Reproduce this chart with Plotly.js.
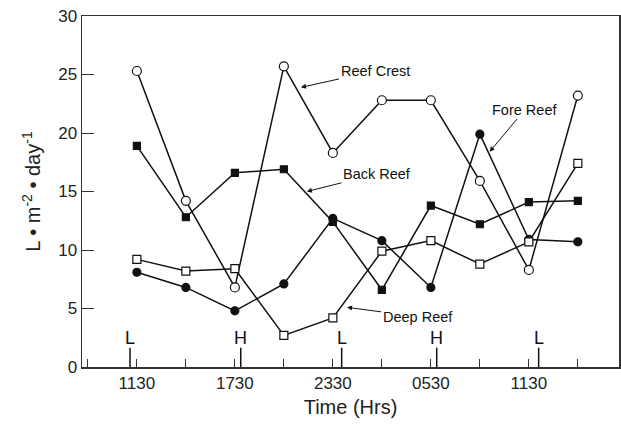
<!DOCTYPE html>
<html>
<head>
<meta charset="utf-8">
<script src="https://cdn.plot.ly/plotly-3.0.1.min.js"></script>
<style>html,body{margin:0;padding:0;background:#fff;}#chart{width:621px;height:424px;}</style>
</head>
<body>
<div id="chart"></div>
<script>
// Sampling times (every 3 h), index positions on x axis
var timeLabels = ["1130","1430","1730","2030","2330","0230","0530","0830","1130","1430"];
var majorIdx   = [0, 2, 4, 6, 8];
var majorText  = ["1130","1730","2330","0530","1130"];
var reefCrest = [25.3, 14.2, 6.8, 25.7, 18.3, 22.8, 22.8, 15.9, 8.3, 23.2];
var backReef  = [18.9, 12.8, 16.6, 16.9, 12.4, 6.6, 13.8, 12.2, 14.1, 14.2];
var foreReef  = [8.1, 6.8, 4.8, 7.1, 12.7, 10.8, 6.8, 19.9, 10.9, 10.7];
var deepReef  = [9.2, 8.2, 8.4, 2.7, 4.2, 9.9, 10.8, 8.8, 10.7, 17.4];
// Tide markers (position in sample-index units) and labels
var tidePos    = [-0.14, 2.12, 4.18, 6.12, 8.2];
var tideLabels = ["L","H","L","H","L"];

var idx = timeLabels.map(function(_, i){ return i; });
var lineStyle = {color:'#111', width:1.5};

function series(name, vals, open, symbol, size){
  return {
    x: idx, y: vals, name: name, type: 'scatter', mode: 'lines+markers',
    line: lineStyle,
    marker: {symbol: symbol, size: size, color: open ? '#fff' : '#111',
             line: {color:'#111', width:1.2}},
    cliponaxis: false
  };
}

var traces = [
  series('Reef Crest', reefCrest, true, 'circle', 9),
  series('Back Reef', backReef, false, 'square', 7),
  series('Fore Reef', foreReef, false, 'circle', 8),
  series('Deep Reef', deepReef, true, 'square', 8)
];

var shapes = tidePos.map(function(p){
  return {type:'line', xref:'x', yref:'y', x0:p, x1:p, y0:0, y1:1.65,
          line:{color:'#111', width:1.5}};
});
var annotations = tidePos.map(function(p, i){
  return {x:p, y:2.45, xref:'x', yref:'y', text:tideLabels[i], showarrow:false,
          font:{size:18, color:'#111'}};
});

function label(text, tx, ty, hx, hy){
  annotations.push({x:hx, y:hy, xref:'x', yref:'y', axref:'x', ayref:'y', ax:tx, ay:ty,
                    text:text, showarrow:true, arrowhead:2, arrowsize:1, arrowwidth:1,
                    arrowcolor:'#111', font:{size:14.5, color:'#111'}});
}
label('Reef Crest', 4.86, 25.3, 3.35, 23.9);
label('Fore Reef', 7.92, 22.0, 7.2, 18.4);
label('Back Reef', 4.9, 16.5, 3.47, 15.0);
label('Deep Reef', 5.73, 4.3, 4.29, 5.1);

var layout = {
  width: 621, height: 424,
  margin: {l:82, r:2, t:16, b:57},
  paper_bgcolor:'#fff', plot_bgcolor:'#fff',
  showlegend: false,
  font: {family:'"Liberation Sans", Arial, Helvetica, sans-serif', color:'#222'},
  xaxis: {
    range: [-1.12, 9.84], showgrid:false, zeroline:false,
    showline:true, linecolor:'#333', linewidth:1.5, mirror:true,
    tickmode:'array', tickvals: majorIdx, ticktext: majorText,
    ticks:'inside', ticklen:8, tickwidth:1, tickcolor:'#333',
    minor:{tickmode:'linear', tick0:0, dtick:1, ticks:'inside', ticklen:8, tickwidth:1, tickcolor:'#333', showgrid:false},
    tickfont:{size:17, color:'#222'},
    title:{text:'Time (Hrs)', font:{size:20, color:'#222'}, standoff:8}
  },
  yaxis: {
    range: [0, 30], showgrid:false, zeroline:false,
    showline:true, linecolor:'#333', linewidth:1.5, mirror:true,
    tickmode:'array', tickvals:[0,5,10,15,20,25,30],
    ticks:'inside', ticklen:12, tickwidth:1, tickcolor:'#333',
    tickfont:{size:17, color:'#222'},
    title:{text:'L • m<sup>-2</sup> • day<sup>-1</sup>', font:{size:20, color:'#222'}, standoff:12}
  },
  shapes: shapes,
  annotations: annotations
};

Plotly.newPlot('chart', traces, layout, {displayModeBar:false, staticPlot:true});
</script>
</body>
</html>
